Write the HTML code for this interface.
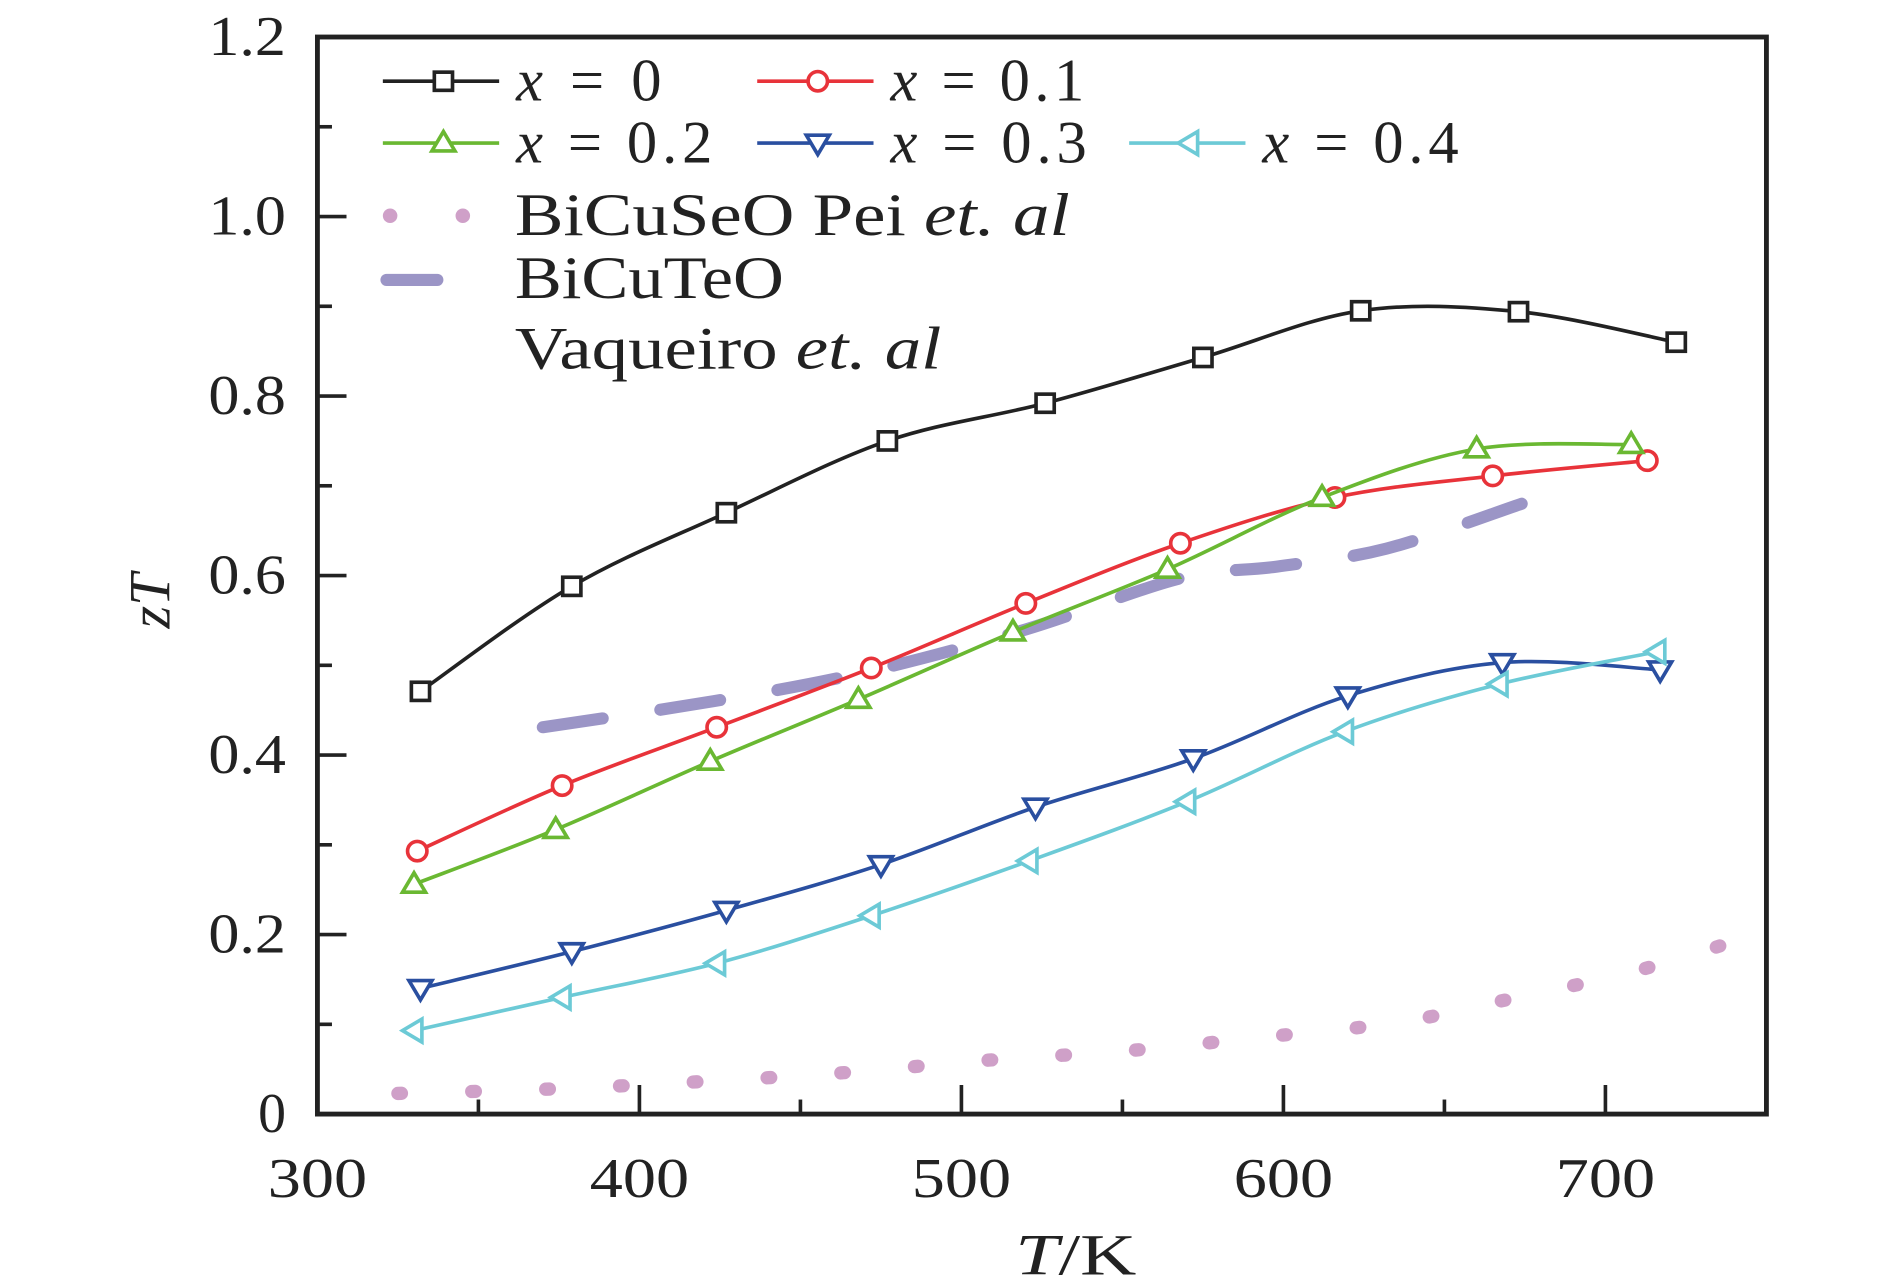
<!DOCTYPE html>
<html><head><meta charset="utf-8"><style>
html,body{margin:0;padding:0;background:#fff;}
svg{display:block;}
text{font-family:"Liberation Serif","DejaVu Serif",serif;fill:#222;}
</style></head><body>
<svg id="chart" width="1890" height="1288" viewBox="0 0 1560 1063" xmlns="http://www.w3.org/2000/svg"></svg>
<script>
const temps0=[332,379,427,477,526,575,624,673,722];
const zt0=[0.471,0.588,0.670,0.750,0.792,0.843,0.895,0.894,0.860];
const temps1=[331,376,424,472,520,568,616,665,713];
const zt1=[0.293,0.366,0.431,0.497,0.569,0.636,0.687,0.711,0.728];
const temps2=[330,374,422,468,516,564,612,660,708];
const zt2=[0.256,0.317,0.393,0.462,0.537,0.607,0.687,0.741,0.746];
const temps3=[332,379,427,475,523,572,620,668,717];
const zt3=[0.140,0.181,0.227,0.278,0.342,0.396,0.466,0.503,0.495];
const temps4=[330,376,424,472,521,570,619,667,716];
const zt4=[0.093,0.130,0.168,0.221,0.282,0.348,0.426,0.479,0.515];
const peiT=[325,373,418,463,508,553,597,620,642,665,710,750];
const peiZT=[0.023,0.028,0.036,0.046,0.060,0.071,0.087,0.095,0.106,0.124,0.160,0.204];
const vaqT=[370,423,471,520,568,598,632,674];
const vaqZT=[0.431,0.460,0.493,0.540,0.597,0.610,0.630,0.680];
const xTicks=[300,400,500,600,700];
const yTicks=[0,0.2,0.4,0.6,0.8,1.0,1.2];
const yTickLabels=["0","0.2","0.4","0.6","0.8","1.0","1.2"];

const L=262,R=1458,T=30.5,B=919.5;
const sx=t=>L+(t-300)*(R-L)/450;
const sy=v=>B-v*(B-T)/1.2;
const svg=document.getElementById('chart');
const NS="http://www.w3.org/2000/svg";
function mk(tag,attrs,parent){const e=document.createElementNS(NS,tag);for(const k in attrs)e.setAttribute(k,attrs[k]);(parent||svg).appendChild(e);return e;}
function smooth(pts){let d=`M${pts[0][0]},${pts[0][1]}`;for(let i=0;i<pts.length-1;i++){const p0=pts[i-1]||pts[i],p1=pts[i],p2=pts[i+1],p3=pts[i+2]||p2;
const c1=[p1[0]+(p2[0]-p0[0])/6,p1[1]+(p2[1]-p0[1])/6],c2=[p2[0]-(p3[0]-p1[0])/6,p2[1]-(p3[1]-p1[1])/6];
d+=` C${c1[0]},${c1[1]} ${c2[0]},${c2[1]} ${p2[0]},${p2[1]}`;}return d;}
function marker(type,x,y,color,g){const s=8.5;let e;
if(type==='square')e=mk('rect',{x:x-s+1,y:y-s+1,width:2*s-2,height:2*s-2,fill:'#fff',stroke:color,'stroke-width':3},g);
else if(type==='circle')e=mk('circle',{cx:x,cy:y,r:s-0.5,fill:'#fff',stroke:color,'stroke-width':3},g);
else if(type==='up')e=mk('polygon',{points:`${x},${y-s-1} ${x-s-1},${y+s-2} ${x+s+1},${y+s-2}`,fill:'#fff',stroke:color,'stroke-width':3},g);
else if(type==='down')e=mk('polygon',{points:`${x},${y+s+1} ${x-s-1},${y-s+2} ${x+s+1},${y-s+2}`,fill:'#fff',stroke:color,'stroke-width':3},g);
else e=mk('polygon',{points:`${x-s-1},${y} ${x+s-2},${y-s-1} ${x+s-2},${y+s+1}`,fill:'#fff',stroke:color,'stroke-width':3},g);


return e;}

const gp=mk('path',{d:smooth(peiT.map((t,i)=>[sx(t),sy(peiZT[i])])),fill:'none',stroke:'#cfa0c8','stroke-width':11,'stroke-linecap':'round','stroke-dasharray':'3 58'});


const gv=mk('path',{d:smooth(vaqT.map((t,i)=>[sx(t),sy(vaqZT[i])])),fill:'none',stroke:'#9b95c6','stroke-width':10,'stroke-linecap':'round','stroke-dasharray':'50 48'});



const series=[
 {t:temps0,z:zt0,c:'#222',m:'square',n:'series-x0'},
 {t:temps1,z:zt1,c:'#e8333a',m:'circle',n:'series-x0.1'},
 {t:temps2,z:zt2,c:'#6ab832',m:'up',n:'series-x0.2'},
 {t:temps3,z:zt3,c:'#2a4fa0',m:'down',n:'series-x0.3'},
 {t:temps4,z:zt4,c:'#6ccad6',m:'left',n:'series-x0.4'}];
series.forEach(s=>{const g=mk('g',{});


const pts=s.t.map((t,i)=>[sx(t),sy(s.z[i])]);
mk('path',{d:smooth(pts),fill:'none',stroke:s.c,'stroke-width':3},g);
pts.forEach(p=>marker(s.m,p[0],p[1],s.c,g));});

const fr=mk('rect',{x:L,y:T,width:R-L,height:B-T,fill:'none',stroke:'#222','stroke-width':4});


for(let t=350;t<750;t+=50){const maj=t%100===0,len=maj?24:12;
mk('line',{x1:sx(t),x2:sx(t),y1:B,y2:B-len,stroke:'#222','stroke-width':3});}
xTicks.forEach(t=>{const e=mk('text',{x:sx(t),y:988,'font-size':46,'text-anchor':'middle',textLength:82,lengthAdjust:'spacingAndGlyphs'});e.textContent=t;

});
for(let v=0.1;v<1.2;v+=0.1){const maj=Math.round(v*10)%2===0,len=maj?24:12;
mk('line',{x1:L,x2:L+len,y1:sy(v),y2:sy(v),stroke:'#222','stroke-width':3});}
yTicks.forEach((v,i)=>{const a={x:236,y:sy(v)+15,'font-size':46,'text-anchor':'end'};
if(yTickLabels[i].length>1){a.textLength=64;a.lengthAdjust='spacingAndGlyphs';}
const e=mk('text',a);e.textContent=yTickLabels[i];

});
const xt=mk('text',{x:888,y:1052,'font-size':48,'text-anchor':'middle',textLength:100,lengthAdjust:'spacingAndGlyphs'});xt.innerHTML='<tspan font-style="italic">T</tspan>/K';


const yt=mk('text',{x:0,y:0,'font-size':48,'text-anchor':'middle',transform:'translate(140,496) rotate(-90)','font-style':'italic'});yt.textContent='zT';



const lg=mk('g',{});


const items=[[316,67,'#222','square','0',120],[625,67,'#e8333a','circle','0.1',160],[316,118,'#6ab832','up','0.2',162],[625,118,'#2a4fa0','down','0.3',162],[932,118,'#6ccad6','left','0.4',162]];
items.forEach(it=>{const [x,y,c,m,v,w]=it;
mk('line',{x1:x,x2:x+96,y1:y,y2:y,stroke:c,'stroke-width':3},lg);marker(m,x+50,y,c,lg);
const e=mk('text',{x:x+110,y:y+16,'font-size':50,textLength:w,lengthAdjust:'spacing'},lg);e.innerHTML=`<tspan font-style="italic">x</tspan> = ${v}`;

});
mk('circle',{cx:322,cy:178,r:6,fill:'#cfa0c8'},lg);mk('circle',{cx:382,cy:178,r:6,fill:'#cfa0c8'},lg);
let e1=mk('text',{x:425,y:194,'font-size':50,textLength:458,lengthAdjust:'spacingAndGlyphs'},lg);e1.innerHTML='BiCuSeO Pei <tspan font-style="italic">et. al</tspan>';


mk('line',{x1:319,x2:361,y1:231,y2:231,stroke:'#9b95c6','stroke-width':10,'stroke-linecap':'round'},lg);
let e2=mk('text',{x:425,y:246,'font-size':50,textLength:222,lengthAdjust:'spacingAndGlyphs'},lg);e2.textContent='BiCuTeO';


let e3=mk('text',{x:425,y:304,'font-size':50,textLength:352,lengthAdjust:'spacingAndGlyphs'},lg);e3.innerHTML='Vaqueiro <tspan font-style="italic">et. al</tspan>';


</script>
</body></html>
